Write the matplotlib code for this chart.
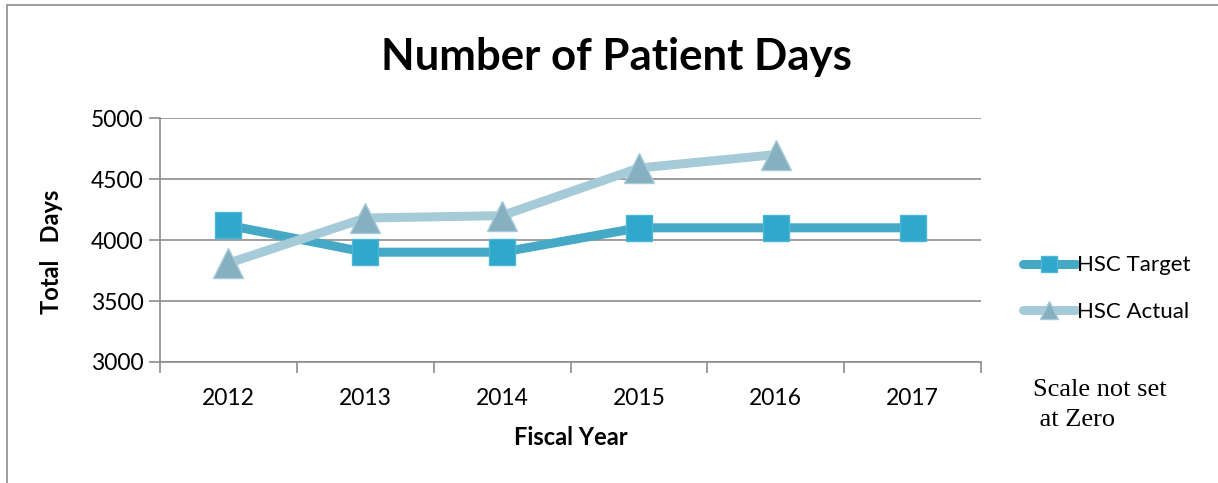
import matplotlib.pyplot as plt
from matplotlib.patches import Rectangle
from matplotlib.lines import Line2D

# data
years = ['2012', '2013', '2014', '2015', '2016', '2017']
target = [4120, 3900, 3900, 4100, 4100, 4100]
actual = [3810, 4180, 4200, 4590, 4700]

plt.rcParams['font.family'] = ['Lato', 'DejaVu Sans']

c_target = '#45A9C5'
c_actual = '#A6CBD8'

fig = plt.figure(figsize=(12.18, 4.83), dpi=100)
# outer chart border (only left/top visible in the crop)
fig.patches.append(Rectangle((7/1218, -0.1), 1.2, 1.1 - 5/483, transform=fig.transFigure,
                             fill=False, edgecolor='#8c8c8c', linewidth=1.2))

ax = fig.add_axes([160/1218, 1-362/483, 821/1218, 244/483])

x = list(range(len(years)))
ax.plot(x, target, color=c_target, linewidth=6.5, marker='s', markersize=19,
        markerfacecolor='#2FA8CC', markeredgecolor='#4DB6D6', markeredgewidth=1, zorder=3)
ax.plot(x[:len(actual)], actual, color=c_actual, linewidth=6.5, marker='^', markersize=21,
        markerfacecolor='#86AFC0', markeredgecolor='#A6CBD8', markeredgewidth=1, zorder=4)

ax.set_xlim(-0.5, len(years) - 0.5)
ax.set_ylim(3000, 5000)
ax.set_yticks([3000, 3500, 4000, 4500, 5000])
ax.set_xticks(x)
ax.set_xticklabels(years)
ax.set_xticks([i - 0.5 for i in range(len(years) + 1)], minor=True)
ax.tick_params(axis='x', which='major', length=0, pad=19, labelsize=16.5)
ax.tick_params(axis='x', which='minor', length=8, color='#8c8c8c', width=1.2)
ax.tick_params(axis='y', length=8, color='#8c8c8c', width=1.2, labelsize=16.5, pad=4)
ax.grid(axis='y', color='#8c8c8c', linewidth=1.2)
ax.set_axisbelow(True)
for s in ['top', 'right']:
    ax.spines[s].set_visible(False)
for s in ['left', 'bottom']:
    ax.spines[s].set_color('#8c8c8c')
    ax.spines[s].set_linewidth(1.2)

fig.text(616/1218, 1-57/483, 'Number of Patient Days', fontsize=31.5, fontweight='bold',
         ha='center', va='center')
ax.set_xlabel('Fiscal Year', fontsize=17, fontweight='bold', labelpad=12)
ax.set_ylabel('Total   Days', fontsize=17, fontweight='bold')
ax.yaxis.set_label_coords((63 - 160) / 821, 0.45)

handles = [Line2D([], [], color=c_target, linewidth=6.5, solid_capstyle='round', marker='s',
                  markersize=12, markerfacecolor='#2FA8CC', markeredgecolor='#4DB6D6'),
           Line2D([], [], color=c_actual, linewidth=6.5, solid_capstyle='round', marker='^',
                  markersize=13, markerfacecolor='#86AFC0', markeredgecolor='#A6CBD8')]
ax.legend(handles, ['HSC Target', 'HSC Actual'], loc='center left',
          bbox_to_anchor=(1.04, 0.30), frameon=False, fontsize=16,
          handlelength=2.4, handletextpad=0.05, labelspacing=1.2, borderaxespad=0)

fig.text(1033/1218, 1-405/483, 'Scale not set\n at Zero', family='Liberation Serif',
         fontsize=19, va='center', linespacing=1.43)

fig.savefig('out.png', dpi=100)
